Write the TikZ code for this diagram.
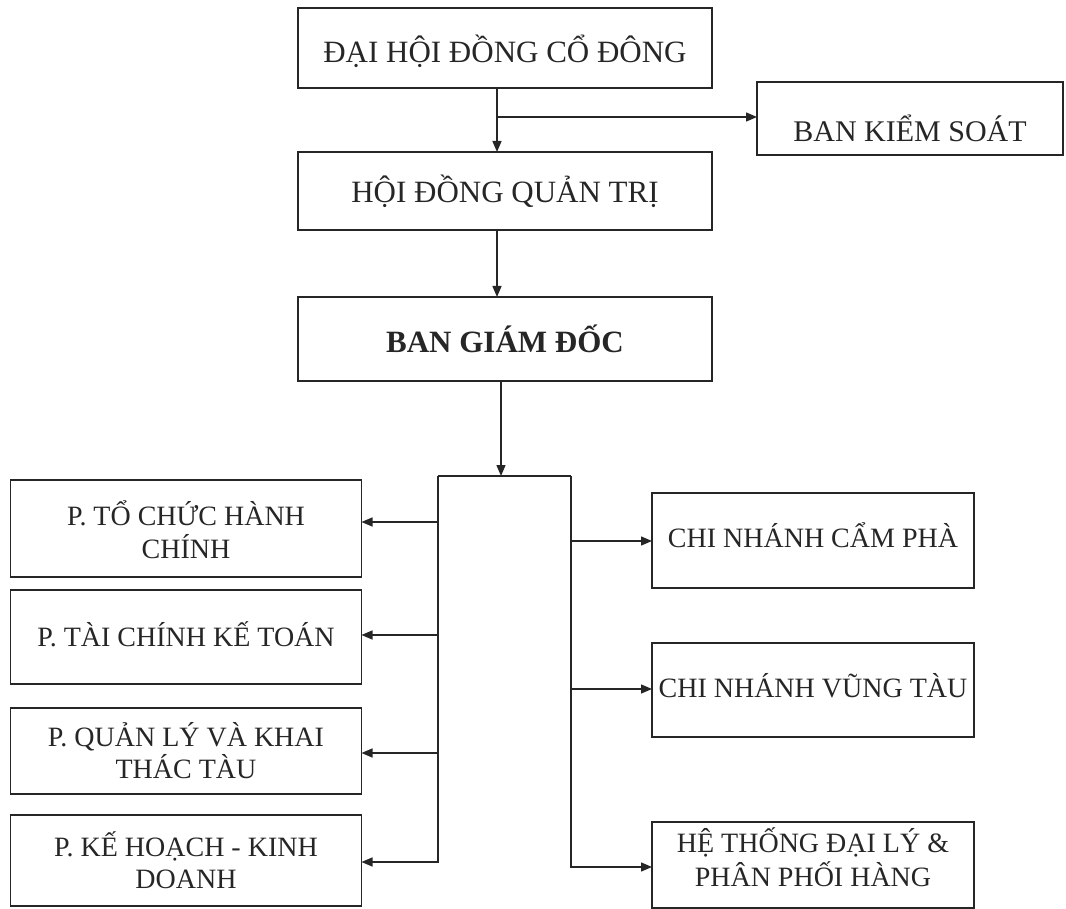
\documentclass[tikz,border=0pt]{standalone}
\usepackage{fontspec}
\setmainfont{Liberation Serif}
\usetikzlibrary{arrows.meta}
\tikzset{
  orgbox/.style={draw=black!85, line width=1.4pt, inner sep=0pt, outer sep=0pt, align=center, text=black!85},
  txtA/.style={font=\fontsize{31}{35}\selectfont},
  txtK/.style={font=\fontsize{30}{34}\selectfont},
  txtB/.style={font=\fontsize{28}{32}\selectfont},
  txtC/.style={font=\fontsize{31}{35}\selectfont\bfseries},
  link/.style={draw=black!85, line width=1.4pt},
  arr/.style={link, -{Triangle[length=11pt,width=9pt]}}
}
\newcommand{\lowerby}[2]{\raisebox{-#1}[\height][\depth]{#2}}
\begin{document}
\begin{tikzpicture}[x=1pt,y=-1pt]
\useasboundingbox (0,0) rectangle (1066,909);
% top chain
\node[orgbox, txtA, minimum width=414pt, minimum height=80pt] (dh) at (505,48) {\lowerby{3pt}{ĐẠI HỘI ĐỒNG CỔ ĐÔNG}};
\node[orgbox, txtK, minimum width=306pt, minimum height=73pt] (bks) at (910,118.5) {\lowerby{10pt}{BAN KIỂM SOÁT}};
\node[orgbox, txtA, minimum width=414pt, minimum height=78pt] (hdqt) at (505,191) {HỘI ĐỒNG QUẢN TRỊ};
\node[orgbox, txtC, minimum width=414pt, minimum height=84pt] (bgd) at (505,339) {BAN GIÁM ĐỐC};
% left departments
\node[orgbox, txtB, minimum width=351pt, minimum height=97pt] (tchc) at (186,528.5) {\lowerby{6pt}{\begin{tabular}{@{}c@{}}P. TỔ CHỨC HÀNH\\CHÍNH\end{tabular}}};
\node[orgbox, txtB, minimum width=351pt, minimum height=94pt] (tckt) at (186,637) {\lowerby{-3pt}{P. TÀI CHÍNH KẾ TOÁN}};
\node[orgbox, txtB, minimum width=351pt, minimum height=86pt] (qlkt) at (186,751) {P. QUẢN LÝ VÀ KHAI\\THÁC TÀU};
\node[orgbox, txtB, minimum width=351pt, minimum height=91pt] (khkd) at (186,860.5) {P. KẾ HOẠCH - KINH\\DOANH};
% right branches
\node[orgbox, txtB, minimum width=322pt, minimum height=95pt] (cp) at (813,540.5) {\lowerby{-5pt}{CHI NHÁNH CẨM PHÀ}};
\node[orgbox, txtB, minimum width=322pt, minimum height=94pt] (vt) at (813,690) {\lowerby{-4pt}{CHI NHÁNH VŨNG TÀU}};
\node[orgbox, txtB, minimum width=322pt, minimum height=86pt] (ht) at (813,865) {\lowerby{-3pt}{\begin{tabular}{@{}c@{}}HỆ THỐNG ĐẠI LÝ \&\\PHÂN PHỐI HÀNG\end{tabular}}};
% connectors top
\coordinate (t1) at (497,117);
\draw[arr] (dh.south -| t1) -- (hdqt.north -| t1);
\draw[arr] (t1) -- (bks.west |- t1);
\draw[arr] (hdqt.south -| t1) -- (bgd.north -| t1);
% bus
\coordinate (bus) at (501,476);
\coordinate (bl) at (438,476);
\coordinate (br) at (571,476);
\draw[arr] (bgd.south -| bus) -- (bus);
\draw[link] (bl) -- (br);
% left side
\coordinate (l1) at (438,522);
\coordinate (l2) at (438,635);
\coordinate (l3) at (438,753);
\coordinate (l4) at (438,862);
\draw[arr] (bl) -- (l4) -- (khkd.east |- l4);
\draw[arr] (l1) -- (tchc.east |- l1);
\draw[arr] (l2) -- (tckt.east |- l2);
\draw[arr] (l3) -- (qlkt.east |- l3);
% right side
\coordinate (r1) at (571,541);
\coordinate (r2) at (571,689);
\coordinate (r3) at (571,867);
\draw[arr] (br) -- (r3) -- (ht.west |- r3);
\draw[arr] (r1) -- (cp.west |- r1);
\draw[arr] (r2) -- (vt.west |- r2);
\end{tikzpicture}
\end{document}
